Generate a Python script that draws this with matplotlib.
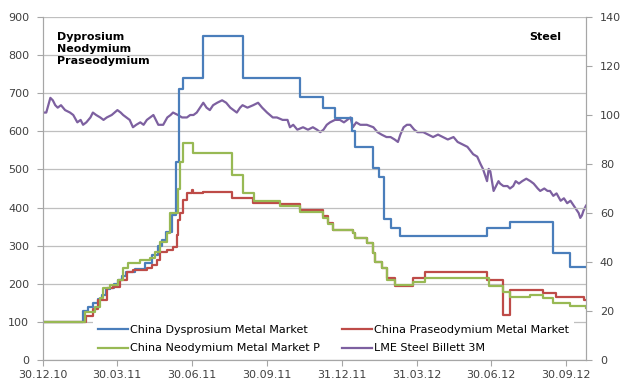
import numpy as np
import matplotlib
matplotlib.use("Agg")
import matplotlib.pyplot as plt
import matplotlib.dates as mdates

plt.rcParams.update({
    "font.family": "DejaVu Sans",
    "font.size": 8,
    "xtick.color": "#404040",
    "ytick.color": "#404040",
})

START = np.datetime64("2010-12-30")

# day offsets from 30.12.10 and index values (steps for rare earths)
dy_days = [0, 49, 55, 61, 67, 72, 77, 82, 87, 92, 97, 102, 113, 125, 133, 141, 146,
           151, 158, 163, 166, 171, 196, 244, 314, 343, 357, 378, 381, 404, 411, 417,
           425, 437, 543, 571, 624, 645, 664]
dy_vals = [100, 128, 140, 150, 160, 170, 185, 190, 200, 210, 220, 232, 240, 255, 275,
           300, 315, 335, 380, 520, 710, 740, 850, 740, 690, 660, 635, 600, 560, 505,
           480, 370, 346, 325, 346, 362, 280, 245, 245]

nd_days = [0, 51, 64, 70, 73, 82, 92, 98, 104, 119, 131, 137, 143, 152, 155, 165, 168,
           171, 184, 231, 245, 258, 290, 314, 343, 348, 355, 379, 382, 396, 403, 406,
           415, 421, 431, 452, 467, 545, 563, 571, 596, 612, 624, 645, 664]
nd_vals = [100, 126, 139, 163, 189, 197, 210, 241, 255, 262, 267, 283, 310, 333, 385,
           450, 520, 569, 543, 485, 438, 417, 404, 388, 373, 357, 341, 333, 320, 307,
           280, 257, 241, 210, 197, 205, 215, 194, 178, 166, 170, 162, 149, 142, 136]

pr_days = [0, 52, 61, 67, 78, 86, 94, 103, 110, 127, 133, 140, 143, 152, 159, 164, 165,
           168, 171, 176, 182, 184, 196, 231, 257, 290, 314, 343, 348, 355, 379, 382,
           396, 403, 406, 415, 421, 431, 452, 467, 543, 563, 571, 612, 627, 661, 664]
pr_vals = [100, 115, 135, 157, 189, 192, 210, 231, 236, 241, 249, 262, 283, 289, 297,
           328, 367, 385, 420, 438, 446, 438, 441, 425, 412, 409, 394, 378, 360, 341,
           333, 320, 307, 280, 257, 241, 215, 194, 215, 231, 210, 118, 184, 176, 166,
           157, 157]

# (day, LME steel billet 3M price)
steel = [(0, 101), (4, 101), (9, 107), (12, 106), (15, 104), (18, 103), (22, 104),
         (27, 102), (33, 101), (37, 100), (42, 97), (46, 98), (49, 96), (53, 97),
         (58, 99), (61, 101), (65, 100), (70, 99), (74, 98), (78, 99), (84, 100),
         (91, 102), (95, 101), (98, 100), (102, 99), (106, 98), (110, 95), (114, 96),
         (119, 97), (123, 96), (127, 98), (131, 99), (135, 100), (138, 98), (141, 96),
         (147, 96), (152, 99), (156, 100), (159, 101), (165, 100), (170, 99), (176, 99),
         (180, 100), (184, 100), (188, 101), (192, 103), (196, 105), (200, 103),
         (204, 102), (208, 104), (213, 105), (219, 106), (224, 105), (229, 103),
         (233, 102), (237, 101), (241, 103), (244, 104), (250, 103), (257, 104),
         (263, 105), (268, 103), (274, 101), (281, 99), (286, 99), (293, 98), (299, 98),
         (302, 95), (306, 96), (311, 94), (318, 95), (324, 94), (330, 95), (335, 94),
         (339, 93), (343, 94), (347, 96), (351, 97), (357, 98), (363, 98), (368, 97),
         (372, 98), (376, 99), (379, 95), (383, 97), (388, 96), (396, 96), (404, 95),
         (409, 93), (414, 92), (420, 91), (425, 91), (430, 90), (434, 89), (437, 92),
         (441, 95), (445, 96), (449, 96), (454, 94), (458, 93), (465, 93), (471, 92),
         (477, 91), (483, 92), (489, 91), (495, 90), (502, 91), (507, 89), (513, 88),
         (519, 87), (526, 84), (531, 83), (535, 80), (538, 78), (541, 75), (543, 73),
         (545, 78), (547, 77), (551, 69), (554, 71), (557, 73), (559, 72), (563, 71),
         (568, 71), (571, 70), (575, 71), (578, 73), (582, 72), (586, 73), (591, 74),
         (596, 73), (600, 72), (605, 70), (608, 69), (613, 70), (617, 69), (620, 69),
         (624, 67), (628, 68), (633, 65), (637, 66), (641, 64), (645, 65), (649, 63),
         (651, 62), (655, 60), (657, 58), (659, 59), (661, 61), (664, 63)]
steel_days = [d for d, v in steel]
steel_vals = [v for d, v in steel]


def to_dates(days):
    return START + np.array(days).astype("timedelta64[D]")


fig = plt.figure(figsize=(6.21, 3.81), dpi=100)
ax = fig.add_axes([43 / 621, 21 / 381, 543 / 621, 343 / 381])
ax2 = ax.twinx()

BLUE, RED, GREEN, PURPLE = "#4A7EBB", "#BE4B48", "#98B954", "#7D60A0"
lw = 1.6

l_dy, = ax.plot(to_dates(dy_days), dy_vals, drawstyle="steps-post", color=BLUE, lw=lw,
                label="China Dysprosium Metal Market")
l_pr, = ax.plot(to_dates(pr_days), pr_vals, drawstyle="steps-post", color=RED, lw=lw,
                label="China Praseodymium Metal Market")
l_nd, = ax.plot(to_dates(nd_days), nd_vals, drawstyle="steps-post", color=GREEN, lw=lw,
                label="China Neodymium Metal Market P")
l_st, = ax2.plot(to_dates(steel_days), steel_vals, color=PURPLE, lw=lw,
                 label="LME Steel Billett 3M")
ax.set_zorder(ax2.get_zorder() + 1)
ax.patch.set_visible(False)

ax.set_ylim(0, 900)
ax.set_yticks(range(0, 901, 100))
ax2.set_ylim(0, 140)
ax2.set_yticks(range(0, 141, 20))
ax.set_xlim(START, START + np.timedelta64(664, "D"))
tick_dates = ["2010-12-30", "2011-03-30", "2011-06-30", "2011-09-30",
              "2011-12-31", "2012-03-31", "2012-06-30", "2012-09-30"]
ax.set_xticks([np.datetime64(d) for d in tick_dates])
ax.xaxis.set_major_formatter(mdates.DateFormatter("%d.%m.%y"))

ax.grid(axis="y", color="#BFBFBF", lw=0.9)
ax.set_axisbelow(True)
for a in (ax, ax2):
    a.spines["top"].set_visible(False)
    for s in ("left", "right", "bottom"):
        a.spines[s].set_color("#A6A6A6")
    a.tick_params(length=4, color="#A6A6A6", labelsize=8)
ax.tick_params(axis="y", pad=6)
ax2.tick_params(axis="y", pad=6)

ax.text(0.025, 0.955, "Dyprosium\nNeodymium\nPraseodymium", transform=ax.transAxes,
        fontsize=8, fontweight="bold", va="top", ha="left", linespacing=1.2)
ax.text(0.955, 0.955, "Steel", transform=ax.transAxes, fontsize=8,
        fontweight="bold", va="top", ha="right")

leg = ax.legend(handles=[l_dy, l_nd, l_pr, l_st], ncol=2, loc="lower center",
                bbox_to_anchor=(0.535, -0.01), frameon=True, fancybox=False,
                facecolor="white", edgecolor="none", framealpha=1, fontsize=8,
                handlelength=2.7, handletextpad=0.2, columnspacing=2.0,
                labelspacing=0.75, borderpad=0.4)

fig.savefig("out.png", dpi=100)
